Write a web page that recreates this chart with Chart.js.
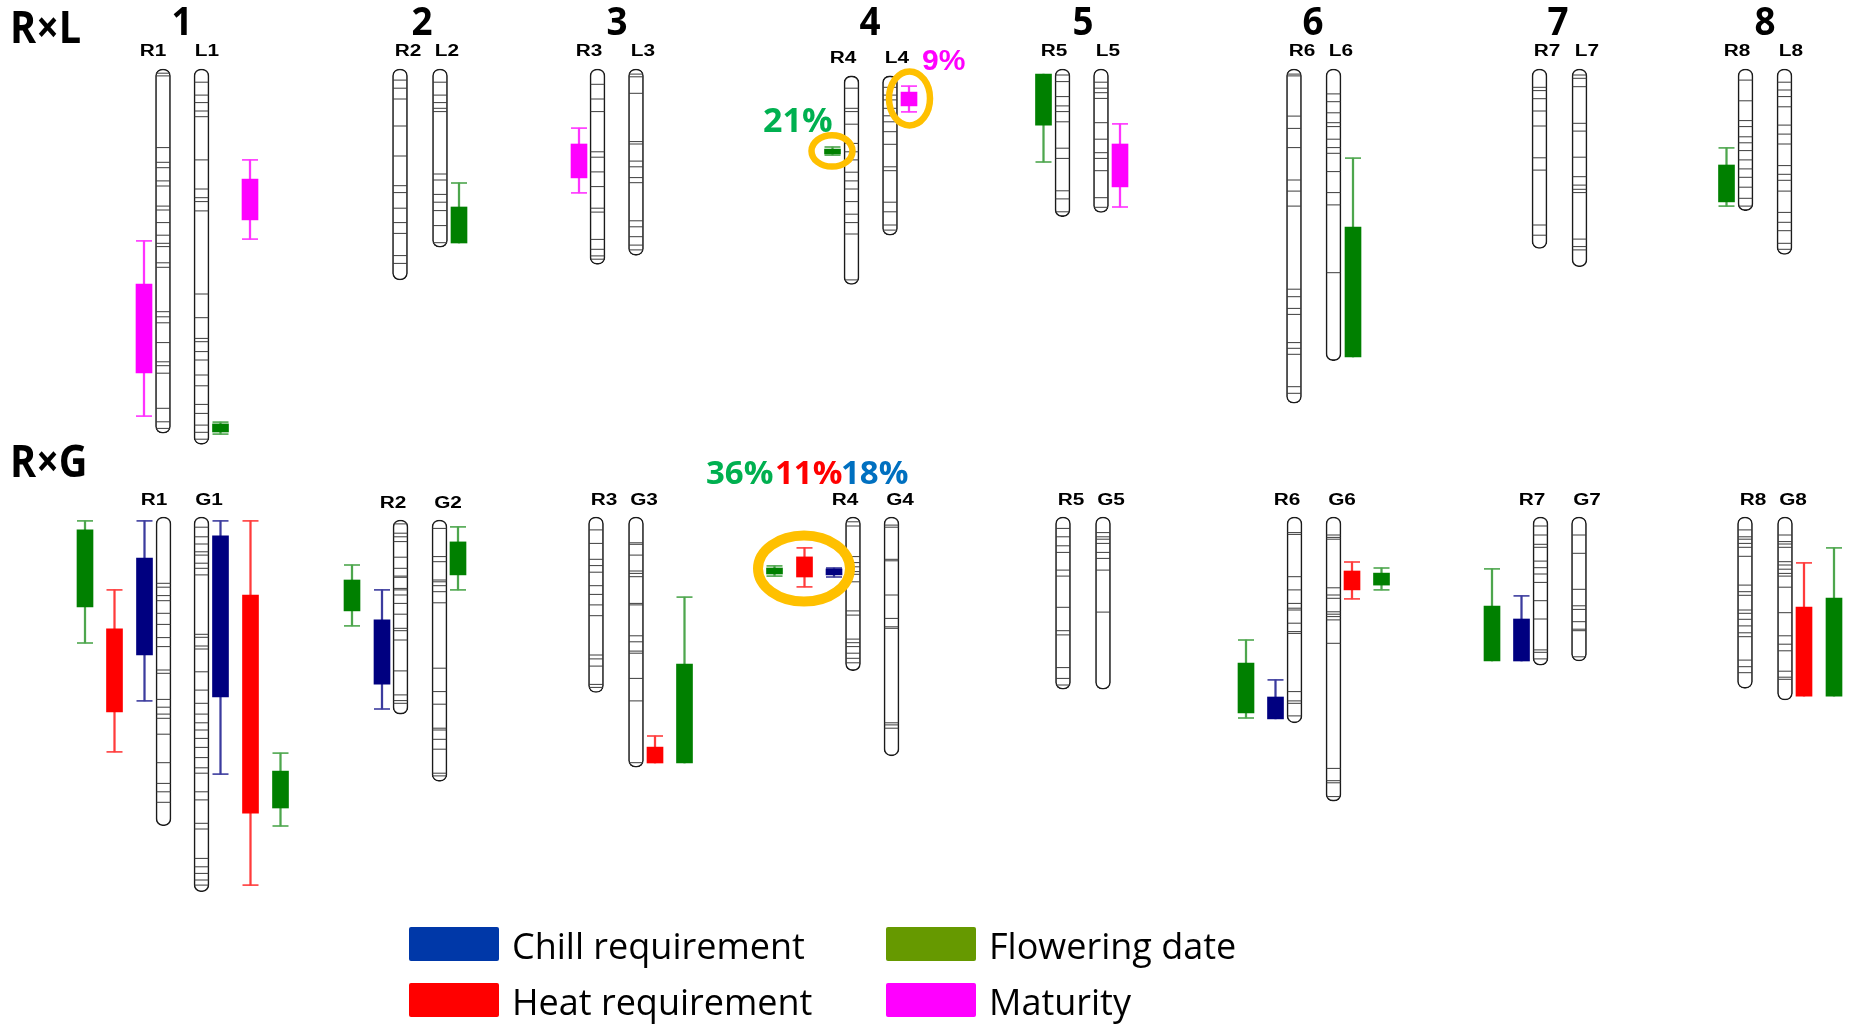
<!DOCTYPE html>
<html>
<head>
<meta charset="utf-8">
<title>QTL map</title>
<script src="https://cdn.jsdelivr.net/npm/chart.js@4.4.1/dist/chart.umd.min.js"></script>
<style>
  html, body { margin: 0; padding: 0; background: #fff; }
  canvas { display: block; }
</style>
</head>
<body>
<canvas id="qtlMap" width="1854" height="1025"></canvas>
<script>
// ---------- data (positions along linkage groups in cM) ----------
const groups = ['1', '2', '3', '4', '5', '6', '7', '8']
const groupTrack = [182, 422, 617, 870, 1083, 1313, 1558, 1765]

// R x L cross
const rlNames = ['R1', 'L1', 'R2', 'L2', 'R3', 'L3', 'R4', 'L4', 'R5', 'L5', 'R6', 'L6', 'R7', 'L7', 'R8', 'L8']
const rlTrack = [163, 201.5, 400, 440, 597.5, 636, 851.5, 890, 1062.5, 1101, 1294, 1333.5, 1539.5, 1579.5, 1745.5, 1784.5]
const rlStart = [0, 0, 0, 0, 0, 0, 2.3, 2.3, 0, 0, 0, 0, 0, 0, 0, 0]
const rlEnd = [121.4, 125.1, 70.3, 59.4, 65.1, 62.1, 71.8, 55.4, 49.2, 47.8, 111.4, 97.2, 59.8, 65.9, 47.2, 61.8]
const rlMarkers = [
  [1.4, 2.3, 26.2, 31.1, 32.9, 37.3, 39, 45.7, 47, 51.2, 55.4, 58.1, 59.2, 64.6, 66.1, 80.9, 82.6, 84.6, 91.2, 97.6, 98.9, 101.4, 113.1, 117.6, 119.8],
  [4.4, 8.7, 11.2, 14, 15.9, 30.3, 40, 42.9, 44.2, 47.3, 75, 82.9, 89.8, 90.9, 94.2, 97, 102, 105.6, 111.8, 114.8, 118.7, 121.1, 123.4],
  [3.7, 6.4, 10, 19, 29, 38.9, 41.2, 46.4, 51.2, 54.8, 62.2, 64.8],
  [4.4, 8.7, 11.2, 13.1, 14.2, 35, 37, 41.8, 44.4, 47.2, 52.2, 57.9],
  [5.1, 10, 14.2, 27.6, 29.4, 34.3, 39.2, 46.4, 47.7, 56.8, 60.1, 62.3, 63.4],
  [1.7, 2.6, 8.1, 24.2, 25, 30.7, 32.6, 36.2, 37.9, 50.6, 52.6, 55.9, 58.7, 60.3],
  [6.4, 13.1, 14.2, 18.4, 24.8, 27.6, 30.3, 34.4, 37.3, 40, 44.2, 48.4, 51.2, 55, 70.3],
  [6.1, 8.7, 10.3, 13.1, 15.6, 17.6, 20.9, 25.1, 32.6, 33.9, 44.4, 47.6, 52, 53.7],
  [2, 4.2, 9.2, 12.3, 14.2, 17.6, 26.4, 29.8, 40.6, 43.3, 47.6],
  [4.4, 6.4, 7.9, 9.8, 17.9, 23.4, 27.9, 29.8, 33.9, 42.9, 46.1],
  [1.7, 2.3, 15.7, 19.8, 26.2, 37, 40.7, 45.7, 73.4, 75.9, 79.8, 81.8, 91.2, 93.1, 95.1, 105.9, 108.1],
  [8.3, 10.9, 14.6, 17.9, 19.2, 23.4, 26.2, 28.1, 34.2, 41.2, 45.3, 67.9],
  [6.1, 7.2, 9.9, 14, 19, 29.6, 33.7, 52, 55.4],
  [2, 3.1, 5.9, 18.1, 20.7, 29.4, 35.9, 38.7, 40.1, 41.2, 56.7, 59.2, 60.3],
  [3.7, 10.6, 17.2, 19.2, 22.6, 24.6, 27.2, 30.3, 33.3, 36.1, 39.4, 43.1, 45.7],
  [4.4, 7, 9.2, 12.6, 18.7, 21.7, 25, 32.2, 35.1, 37.1, 40.7, 47.8, 51.1, 53.9, 58.1, 60.1]
]

// R x G cross
const rgNames = ['R1', 'G1', 'R2', 'G2', 'R3', 'G3', 'R4', 'G4', 'R5', 'G5', 'R6', 'G6', 'R7', 'G7', 'R8', 'G8']
const rgTrack = [163.5, 201.5, 400.5, 439.5, 596, 636, 853, 891.5, 1063, 1103, 1294.5, 1333.5, 1540.5, 1579, 1745, 1785]
const rgStart = [0, 0, 1, 1, 0, 0, 0, 0, 0, 0, 0, 0, 0, 0, 0, 0]
const rgEnd = [102.9, 124.9, 65.7, 88.1, 58.5, 83.4, 51.2, 79.6, 57.4, 57.4, 68.6, 94.7, 49.4, 48, 57.1, 61]
const rgMarkers = [
  [22.1, 23.4, 26.2, 27.9, 32.1, 35.8, 40.2, 43.2, 51, 52.1, 60.8, 63.4, 65.7, 67.1, 72.4, 81.9, 88.8, 91.6, 95.1],
  [3.4, 6.6, 9, 11.6, 12.7, 15.4, 17.1, 19.3, 39.1, 40.1, 43, 44, 51.6, 57.7, 62.1, 65.7, 68.6, 71, 73.8, 76.8, 80.2, 83.6, 85.4, 91.6, 94.3, 102.1, 104, 113.8, 116.6, 118.8, 121, 122.7],
  [2.3, 5.4, 6.6, 8.2, 13.4, 17.1, 19.7, 20.1, 23.8, 24.3, 26, 28.8, 32.4, 37.1, 37.9, 41, 51.3, 59.3, 61.2, 62.1],
  [3.8, 13.2, 14.9, 21, 21.6, 22.9, 24.9, 28.6, 50.4, 58.2, 62.4, 70.4, 71, 74.1, 77.4, 85.4, 86.3],
  [4.3, 8.8, 14.1, 16.2, 18.4, 22.9, 25.8, 29.3, 32.9, 46, 47.3, 49.7, 55.8, 56.8],
  [8.6, 9.1, 12.7, 18, 18.8, 19.9, 28.8, 29.3, 39.6, 41.6, 44.7, 45.4, 53.8, 61.3, 81.9],
  [1.6, 3, 13.2, 15.2, 16.6, 18.2, 19.1, 21.6, 31.3, 32.7, 40.7, 41.9, 43.2, 45.4, 47.1, 48.6],
  [2.7, 3.4, 14.1, 14.6, 26, 33.8, 36.6, 37.1, 68.6, 69.3, 70.4],
  [3.8, 6.6, 9.6, 11.8, 17.7, 19.7, 30.1, 37.9, 39.3, 50.2, 53.8, 56],
  [5.2, 6.6, 7.4, 8.8, 11.8, 13.8, 17.7, 31.7],
  [5.2, 5.8, 19.9, 24.3, 28.8, 30.4, 31, 35.4, 38.2, 38.8, 58.2, 61.3, 62.1, 66.3],
  [6, 6.8, 7.4, 23.6, 26, 27.1, 31.6, 32.4, 33.2, 34.3, 42.1, 83.8, 87.9, 88.6, 93.2],
  [3, 6, 9.1, 10.1, 14.7, 16.9, 19, 21.8, 27.9, 34, 44.3, 45.1, 47.3],
  [6, 12.1, 24.1, 29.6, 30.8, 34.9, 37.4, 37.9, 46.6],
  [4.3, 6.6, 7.4, 8.8, 10.1, 13.1, 22.7, 24.9, 26.1, 31, 32.1, 34.1, 36.3, 38.6, 39.9, 47.7, 49.9, 51.9],
  [6, 8.2, 9, 10.1, 14.9, 16, 17.4, 18.8, 19.7, 23.4, 31.9, 39.6, 42.4, 44.6, 51.4, 53.4, 54.1]
]

// QTL: track, box = interval, ci = whisker interval (cM)
const rlMaturity = [
  { x: 144, box: [71.7, 101.3], ci: [57.3, 115.7] },
  { x: 250, box: [36.7, 50.3], ci: [30.3, 56.7] },
  { x: 579, box: [25, 36.3], ci: [19.7, 41.3] },
  { x: 909, box: [7.7, 12.3], ci: [5.7, 14.3] },
  { x: 1120, box: [25, 39.3], ci: [18.3, 46] }
]
const rlFlowering = [
  { x: 220.5, box: [118.3, 121], ci: [117.7, 121.7] },
  { x: 459, box: [46, 58], ci: [38, 58] },
  { x: 832.5, box: [26.7, 28.3], ci: [26, 28.7] },
  { x: 1043.5, box: [1.7, 18.7], ci: [1.7, 31] },
  { x: 1353, box: [52.7, 96], ci: [29.7, 96] },
  { x: 1726.5, box: [32, 44.3], ci: [26.3, 45.7] }
]
const rgFlowering = [
  { x: 85, box: [4.3, 30], ci: [1.3, 42] },
  { x: 280.5, box: [84.7, 97], ci: [78.7, 103] },
  { x: 352, box: [21, 31.3], ci: [16, 36.3] },
  { x: 458, box: [8.3, 19.3], ci: [3.3, 24.3] },
  { x: 684.5, box: [49, 82], ci: [26.7, 82] },
  { x: 774.5, box: [17, 19], ci: [16.3, 19.7] },
  { x: 1246, box: [48.7, 65.3], ci: [41, 67] },
  { x: 1381.5, box: [18.7, 22.7], ci: [17, 24.3] },
  { x: 1492, box: [29.7, 48], ci: [17.3, 48] },
  { x: 1834, box: [27, 59.7], ci: [10.3, 59.7] }
]
const rgHeat = [
  { x: 114.5, box: [37.3, 65], ci: [24.3, 78.3] },
  { x: 250.5, box: [26, 98.7], ci: [1.3, 122.7] },
  { x: 655, box: [76.7, 82], ci: [73, 82] },
  { x: 804.5, box: [13.3, 20], ci: [10.3, 23.3] },
  { x: 1352, box: [18, 24.3], ci: [15, 27.3] },
  { x: 1804, box: [30, 59.7], ci: [15.3, 59.7] }
]
const rgChill = [
  { x: 144.5, box: [13.7, 46], ci: [1.3, 61.3] },
  { x: 220.5, box: [6.3, 60], ci: [1.3, 85.7] },
  { x: 382, box: [34.3, 55.7], ci: [24.3, 64] },
  { x: 834, box: [17.3, 19.3], ci: [17, 20] },
  { x: 1275.5, box: [60, 67.3], ci: [54.3, 67.3] },
  { x: 1521.5, box: [34, 48], ci: [26.3, 48] }
]

// highlighted QTL and explained variance
const highlights = [
  { axis: 'yRL', x: 832, y: 27.3, rx: 20.5, ry: 15.7, lw: 6.5 },
  { axis: 'yRL', x: 909.5, y: 9.8, rx: 20.5, ry: 27, lw: 6.5 },
  { axis: 'yRG', x: 804, y: 17.2, rx: 46, ry: 33, lw: 10 }
]
const pveLabels = [
  { axis: 'yRL', x: 763, y: 21, text: '21%', color: '#00b050', font: 'bold 34px "Open Sans"' },
  { axis: 'yRL', x: 922, y: 0.3, text: '9%', color: '#ff00ff', font: 'bold 30px "Liberation Sans"' },
  { axis: 'yRG', x: 706, y: -11, text: '36%', color: '#00b050', font: 'bold 33px "Open Sans"' },
  { axis: 'yRG', x: 775, y: -11, text: '11%', color: '#ff0000', font: 'bold 33px "Open Sans"' },
  { axis: 'yRG', x: 841, y: -11, text: '18%', color: '#0070c0', font: 'bold 33px "Open Sans"' }
]

// ---------- layout / style ----------
const rlLabelX = [153, 207, 408, 447, 589, 643, 843, 897, 1054, 1108, 1302, 1341, 1547, 1587, 1737, 1791]
const rgLabelX = [154, 209, 393, 448, 604, 644, 845, 900, 1071, 1111, 1287, 1342, 1532, 1587, 1753, 1793]
const PX_PER_CM = 3
const RL_TOP = 69
const RG_TOP = 517
const W = 1854
const H = 1025

const colors = {
  flowering: '#008000', floweringCI: '#4da64d',
  heat: '#ff0000', heatCI: '#ff3b3b',
  chill: '#000080', chillCI: '#3b3b9e',
  maturity: '#ff00ff', maturityCI: '#ff33ff'
}

function chromDataset(track, start, end, axis) {
  return {
    type: 'bar',
    yAxisID: axis,
    data: track.map((x, i) => ({ x: x, y: [start[i], end[i]] })),
    backgroundColor: '#ffffff',
    borderColor: '#1a1a1a',
    borderWidth: 1.6,
    borderRadius: 7,
    borderSkipped: false,
    barThickness: 15,
    order: 50
  }
}

function markerDataset(track, markers, axis) {
  const pts = []
  markers.forEach((list, i) => list.forEach(m => pts.push({ x: track[i], y: m })))
  return {
    type: 'scatter',
    yAxisID: axis,
    data: pts,
    pointStyle: 'line',
    pointRadius: 7,
    borderColor: '#3c3c3c',
    borderWidth: 1,
    order: 40
  }
}

function qtlDatasets(list, axis, fill, ciColor) {
  const caps = []
  list.forEach(q => {
    if (q.ci[0] < q.box[0]) caps.push({ x: q.x, y: q.ci[0] })
    if (q.ci[1] > q.box[1]) caps.push({ x: q.x, y: q.ci[1] })
  })
  return [
    {
      type: 'bar', yAxisID: axis,
      data: list.map(q => ({ x: q.x, y: q.ci })),
      backgroundColor: ciColor, borderWidth: 0, barThickness: 1.6, order: 30
    },
    {
      type: 'scatter', yAxisID: axis,
      data: caps,
      pointStyle: 'line', pointRadius: 8, borderColor: ciColor, borderWidth: 1.6, order: 20
    },
    {
      type: 'bar', yAxisID: axis,
      data: list.map(q => ({ x: q.x, y: q.box })),
      backgroundColor: fill, borderWidth: 0, barThickness: 16, order: 10
    }
  ]
}

const datasets = [
  chromDataset(rlTrack, rlStart, rlEnd, 'yRL'),
  chromDataset(rgTrack, rgStart, rgEnd, 'yRG'),
  markerDataset(rlTrack, rlMarkers, 'yRL'),
  markerDataset(rgTrack, rgMarkers, 'yRG'),
  ...qtlDatasets(rlMaturity, 'yRL', colors.maturity, colors.maturityCI),
  ...qtlDatasets(rlFlowering, 'yRL', colors.flowering, colors.floweringCI),
  ...qtlDatasets(rgFlowering, 'yRG', colors.flowering, colors.floweringCI),
  ...qtlDatasets(rgHeat, 'yRG', colors.heat, colors.heatCI),
  ...qtlDatasets(rgChill, 'yRG', colors.chill, colors.chillCI)
]

// draw text stretched horizontally by sx
function scaledText(ctx, text, px, py, sx) {
  ctx.save()
  ctx.translate(px, py)
  ctx.scale(sx, 1)
  ctx.fillText(text, 0, 0)
  ctx.restore()
}

const annotations = {
  id: 'annotations',
  afterDatasetsDraw(chart) {
    const ctx = chart.ctx
    const x = chart.scales.x
    ctx.save()
    ctx.strokeStyle = '#ffc000'
    highlights.forEach(h => {
      const y = chart.scales[h.axis]
      ctx.lineWidth = h.lw
      ctx.beginPath()
      ctx.ellipse(x.getPixelForValue(h.x), y.getPixelForValue(h.y), h.rx, h.ry, 0, 0, Math.PI * 2)
      ctx.stroke()
    })
    ctx.restore()
  },
  afterDraw(chart) {
    const ctx = chart.ctx
    const x = chart.scales.x
    const yRL = chart.scales.yRL
    const yRG = chart.scales.yRG
    ctx.save()
    ctx.fillStyle = '#000'

    // panel titles
    ctx.textAlign = 'left'
    ctx.textBaseline = 'alphabetic'
    ctx.font = 'bold 44px "Open Sans"'
    scaledText(ctx, 'R\u00d7L', 10, yRL.getPixelForValue(-8.7), 0.9)
    scaledText(ctx, 'R\u00d7G', 10, yRG.getPixelForValue(-13.3), 0.9)

    // linkage group numbers
    ctx.textAlign = 'center'
    ctx.font = 'bold 40px "Open Sans"'
    groups.forEach((g, i) => scaledText(ctx, g, x.getPixelForValue(groupTrack[i]), yRL.getPixelForValue(-11.3), 0.92))

    // chromosome names
    ctx.font = 'bold 16px "Liberation Sans"'
    ctx.textBaseline = 'middle'
    rlNames.forEach((n, i) => scaledText(ctx, n, x.getPixelForValue(rlLabelX[i]), yRL.getPixelForValue(rlStart[i]) - 17, 1.3))
    rgNames.forEach((n, i) => scaledText(ctx, n, x.getPixelForValue(rgLabelX[i]), yRG.getPixelForValue(rgStart[i]) - 16, 1.3))

    // explained variance
    ctx.textAlign = 'left'
    ctx.textBaseline = 'alphabetic'
    pveLabels.forEach(p => {
      ctx.font = p.font
      ctx.fillStyle = p.color
      ctx.fillText(p.text, x.getPixelForValue(p.x), chart.scales[p.axis].getPixelForValue(p.y))
    })

    // legend
    const legend = [
      { label: 'Chill requirement', color: '#0038a8', lx: 409, ly: 927 },
      { label: 'Heat requirement', color: '#ff0000', lx: 409, ly: 983 },
      { label: 'Flowering date', color: '#669900', lx: 886, ly: 927 },
      { label: 'Maturity', color: '#ff00ff', lx: 886, ly: 983 }
    ]
    ctx.font = '36px "Open Sans"'
    legend.forEach(l => {
      ctx.fillStyle = l.color
      ctx.beginPath()
      ctx.roundRect(l.lx, l.ly, 90, 34, 2)
      ctx.fill()
      ctx.fillStyle = '#000'
      ctx.fillText(l.label, l.lx + 103, l.ly + 32)
    })
    ctx.restore()
  }
}

new Chart(document.getElementById('qtlMap'), {
  type: 'bar',
  data: { datasets: datasets },
  options: {
    responsive: false,
    animation: false,
    devicePixelRatio: 1,
    events: [],
    layout: { padding: 0, autoPadding: false },
    datasets: { bar: { grouped: false } },
    plugins: {
      legend: { display: false },
      tooltip: { enabled: false }
    },
    scales: {
      x: { type: 'linear', min: 0, max: W, offset: false, display: false },
      yRL: { type: 'linear', reverse: true, min: -RL_TOP / PX_PER_CM, max: (H - RL_TOP) / PX_PER_CM, display: false },
      yRG: { type: 'linear', reverse: true, min: -RG_TOP / PX_PER_CM, max: (H - RG_TOP) / PX_PER_CM, display: false }
    }
  },
  plugins: [annotations]
})
</script>
</body>
</html>
